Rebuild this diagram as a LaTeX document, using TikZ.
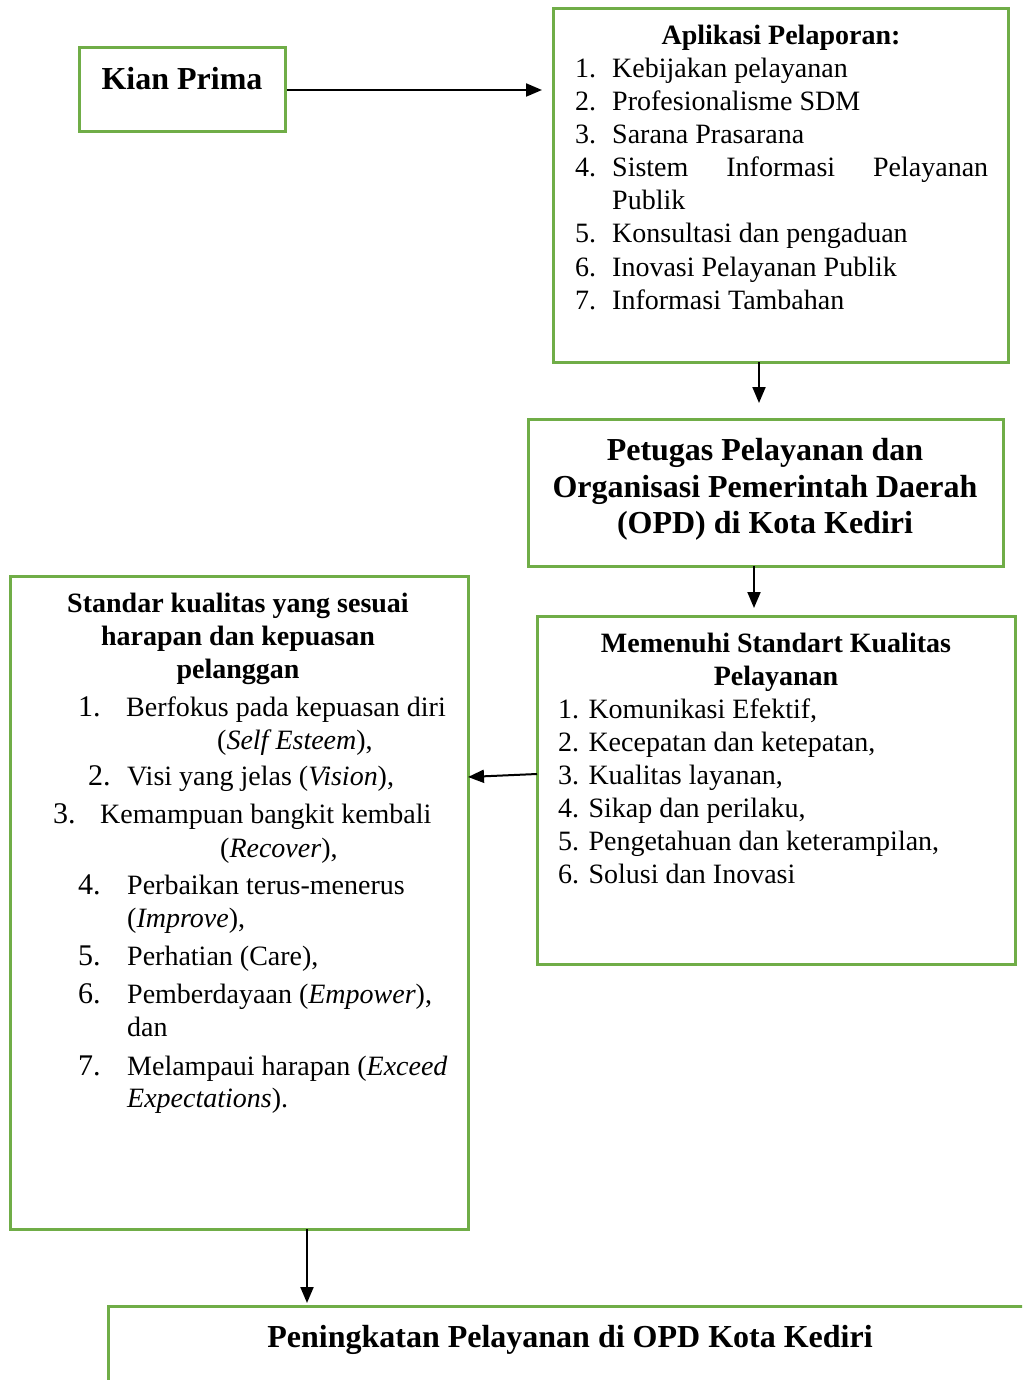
\documentclass[tikz,border=0pt]{standalone}
\usepackage{fontspec}
\setmainfont{Liberation Serif}
\usetikzlibrary{arrows.meta}
\definecolor{boxgreen}{RGB}{112,173,71}
\begin{document}
\begin{tikzpicture}[x=1pt,y=-1pt,
  box/.style={draw=boxgreen, line width=3pt, inner sep=0pt, outer sep=0pt, anchor=north west},
  arr/.style={-{Triangle[length=16pt,width=13pt]}, line width=2pt, black},
  txt/.style={anchor=base west, inner sep=0pt, font=\fontsize{28}{33}\selectfont},
  num/.style={anchor=base west, inner sep=0pt, font=\fontsize{30}{33}\selectfont},
  ttl/.style={anchor=base, inner sep=0pt, font=\bfseries\fontsize{28}{33}\selectfont},
  big/.style={anchor=base, inner sep=0pt, font=\bfseries\fontsize{32}{36}\selectfont}]
\useasboundingbox (0,0) rectangle (1022,1380);
\fill[white] (0,0) rectangle (1022,1380);
\clip (0,0) rectangle (1022,1380);

% boxes
\node[box, minimum width=206pt, minimum height=84pt] (kian) at (79,48) {};
\node[box, minimum width=455pt, minimum height=353pt] (apl) at (553,9) {};
\node[box, minimum width=475pt, minimum height=147pt] (pet) at (528,419) {};
\node[box, minimum width=478pt, minimum height=348pt] (mem) at (537,616) {};
\node[box, minimum width=458pt, minimum height=653pt] (std) at (10,576) {};
\node[box, minimum width=1000pt, minimum height=200pt] (pen) at (108,1306) {};

% Kian Prima
\node[big] (kianT) at (182,90) {Kian Prima};

% Aplikasi Pelaporan
\node[ttl] (aplT) at (781,45) {Aplikasi Pelaporan:};
\node[txt] (ap1n) at (575,78) {1.};  \node[txt] (ap1) at (612,78) {Kebijakan pelayanan};
\node[txt] (ap2n) at (575,111) {2.}; \node[txt] (ap2) at (612,111) {Profesionalisme SDM};
\node[txt] (ap3n) at (575,144) {3.}; \node[txt] (ap3) at (612,144) {Sarana Prasarana};
\node[txt] (ap4n) at (575,177) {4.}; \node[txt] (ap4) at (612,177) {\makebox[376pt][s]{Sistem Informasi Pelayanan}};
\node[txt] (ap4b) at (612,210) {Publik};
\node[txt] (ap5n) at (575,243) {5.}; \node[txt] (ap5) at (612,243) {Konsultasi dan pengaduan};
\node[txt] (ap6n) at (575,276) {6.}; \node[txt] (ap6) at (612,276) {Inovasi Pelayanan Publik};
\node[txt] (ap7n) at (575,309) {7.}; \node[txt] (ap7) at (612,309) {Informasi Tambahan};

% Petugas
\node[big] (pet1) at (765,460) {Petugas Pelayanan dan};
\node[big] (pet2) at (765,497) {Organisasi Pemerintah Daerah};
\node[big] (pet3) at (765,533) {(OPD) di Kota Kediri};

% Memenuhi
\node[ttl] (memT1) at (776,652) {Memenuhi Standart Kualitas};
\node[ttl] (memT2) at (776,685) {Pelayanan};
\node[txt] (me1) at (558,718) {1. Komunikasi Efektif,};
\node[txt] (me2) at (558,751) {2. Kecepatan dan ketepatan,};
\node[txt] (me3) at (558,784) {3. Kualitas layanan,};
\node[txt] (me4) at (558,817) {4. Sikap dan perilaku,};
\node[txt] (me5) at (558,850) {5. Pengetahuan dan keterampilan,};
\node[txt] (me6) at (558,883) {6. Solusi dan Inovasi};

% Standar
\node[ttl] (stT1) at (238,612) {Standar kualitas yang sesuai};
\node[ttl] (stT2) at (238,645) {harapan dan kepuasan};
\node[ttl] (stT3) at (238,678) {pelanggan};
\node[num] (st1n) at (78,716) {1.}; \node[txt] (st1) at (126,716) {Berfokus pada kepuasan diri};
\node[txt] (st1b) at (217,749) {(\textit{Self Esteem}),};
\node[num] (st2n) at (88,785) {2.}; \node[txt] (st2) at (127,785) {Visi yang jelas (\textit{Vision}),};
\node[num] (st3n) at (53,823) {3.}; \node[txt] (st3) at (100,823) {Kemampuan bangkit kembali};
\node[txt] (st3b) at (220,857) {(\textit{Recover}),};
\node[num] (st4n) at (78,894) {4.}; \node[txt] (st4) at (127,894) {Perbaikan terus-menerus};
\node[txt] (st4b) at (127,927) {(\textit{Improve}),};
\node[num] (st5n) at (78,965) {5.}; \node[txt] (st5) at (127,965) {Perhatian (Care),};
\node[num] (st6n) at (78,1003) {6.}; \node[txt] (st6) at (127,1003) {Pemberdayaan (\textit{Empower}),};
\node[txt] (st6b) at (127,1036) {dan};
\node[num] (st7n) at (78,1075) {7.}; \node[txt] (st7) at (127,1075) {Melampaui harapan (\textit{Exceed}};
\node[txt] (st7b) at (127,1107) {\textit{Expectations}).};

% Peningkatan
\node[big] (penT) at (570,1347) {Peningkatan Pelayanan di OPD Kota Kediri};

% connectors
\coordinate (x1) at (759,0);
\coordinate (x2) at (754,0);
\coordinate (x3) at (307,0);
\draw[arr, shorten <=2pt, shorten >=11pt] (kian.east) -- (kian.east -| apl.west);
\draw[arr, shorten >=16pt] (x1 |- apl.south) -- (x1 |- pet.north);
\draw[arr, shorten >=8pt] (x2 |- pet.south) -- (x2 |- mem.north);
\draw[arr] ([yshift=16pt]mem.west) -- ([yshift=125.5pt]std.east);
\draw[arr, shorten >=3pt] (x3 |- std.south) -- (x3 |- pen.north);
\end{tikzpicture}
\end{document}
